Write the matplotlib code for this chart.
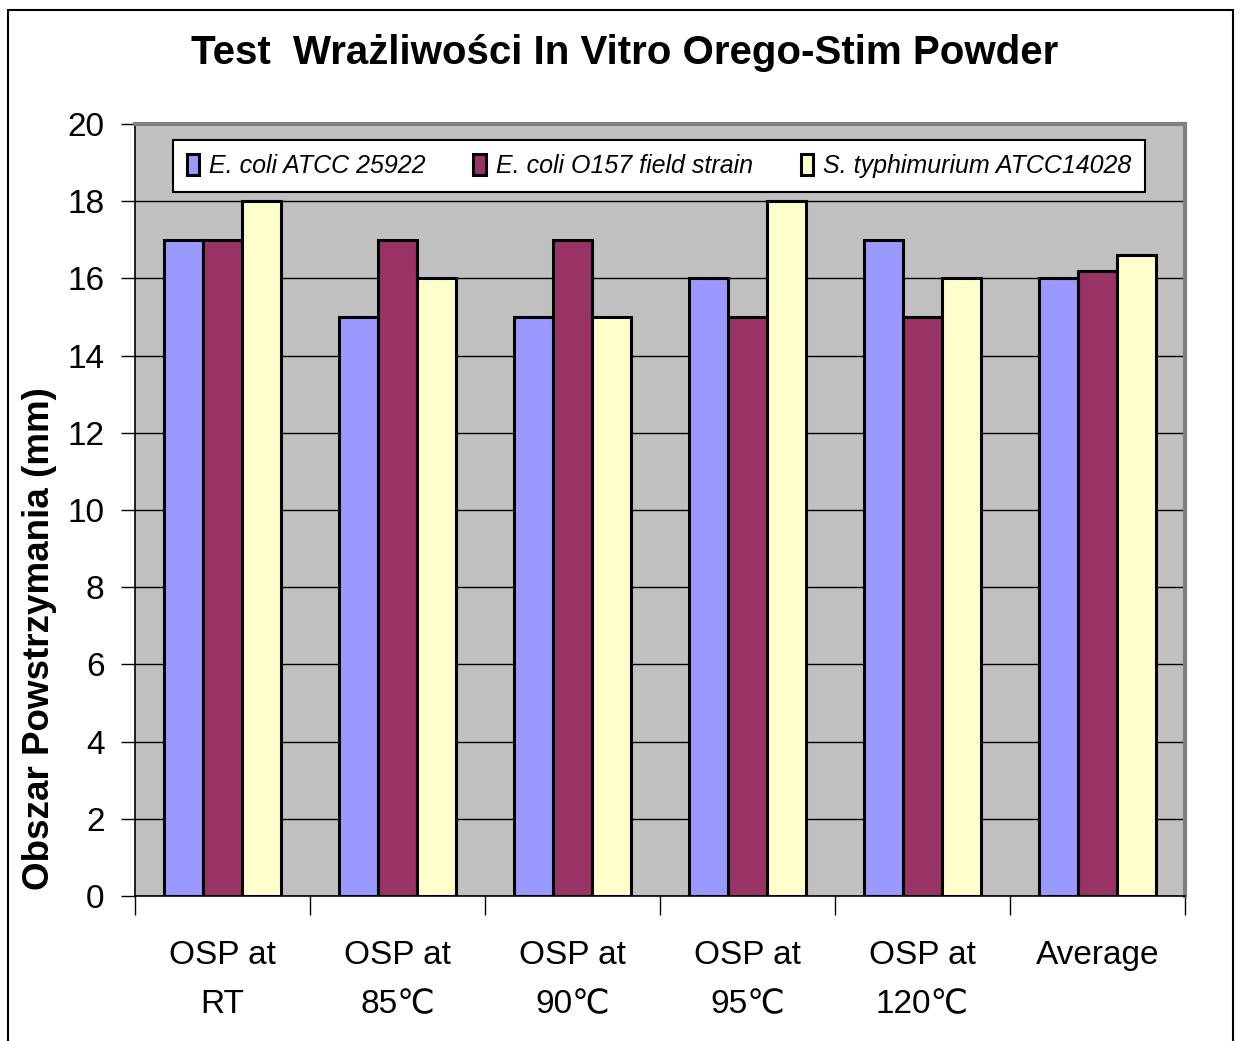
import matplotlib
matplotlib.use("Agg")
import matplotlib.pyplot as plt
import numpy as np
from matplotlib.patches import Rectangle

categories = ["OSP at\nRT", "OSP at\n85\u2103", "OSP at\n90\u2103", "OSP at\n95\u2103", "OSP at\n120\u2103", "Average"]
series_names = ["E. coli ATCC 25922", "E. coli O157 field strain", "S. typhimurium ATCC14028"]
ecoli_atcc = [17, 15, 15, 16, 17, 16.0]
ecoli_o157 = [17, 17, 17, 15, 15, 16.2]
s_typhi = [18, 16, 15, 18, 16, 16.6]
yticks = [0, 2, 4, 6, 8, 10, 12, 14, 16, 18, 20]
title = "Test  Wra\u017cliwo\u015bci In Vitro Orego-Stim Powder"
ylabel = "Obszar Powstrzymania (mm)"

colors = ["#9999FF", "#993366", "#FFFFCC"]

plt.rcParams['font.family'] = ['Liberation Sans', 'DejaVu Sans']

W, H = 1236, 1041
fig = plt.figure(figsize=(W / 100, H / 100), dpi=100)
fig.patch.set_facecolor("white")
fig.patches.append(Rectangle((8 / W, -0.05), (W - 11) / W, 1.05 - 10 / H, transform=fig.transFigure,
                             fill=False, edgecolor="black", linewidth=1.5))

ax = fig.add_axes([135 / W, 1 - 896 / H, 1050 / W, 772 / H])
ax.set_facecolor("#C0C0C0")

x = np.arange(len(categories))
bw = 0.223
for i, (vals, name) in enumerate(zip([ecoli_atcc, ecoli_o157, s_typhi], series_names)):
    ax.bar(x + (i - 1) * bw, vals, width=bw, color=colors[i], edgecolor="black",
           linewidth=2.2, label=name, zorder=3)

ax.set_xlim(-0.5, len(categories) - 0.5)
ax.set_ylim(0, 20)
ax.set_yticks(yticks)
ax.set_yticklabels([str(v) for v in yticks], fontsize=24)
ax.yaxis.grid(True, color="black", linewidth=1.0, zorder=1)
ax.set_axisbelow(True)
ax.tick_params(axis="y", length=10, width=1, pad=12, direction="out")

ax.set_xticks(np.arange(len(categories) + 1) - 0.5)
ax.set_xticklabels([])
ax.tick_params(axis="x", which="major", length=14, width=1, direction="out")
ax.set_xticks(x, minor=True)
ax.set_xticklabels(categories, minor=True, fontsize=24, linespacing=1.75)
ax.tick_params(axis="x", which="minor", length=0, pad=32)

for s in ["left", "bottom"]:
    ax.spines[s].set_color("black")
    ax.spines[s].set_linewidth(1.2)
for s in ["top", "right"]:
    ax.spines[s].set_color("#808080")
    ax.spines[s].set_linewidth(3)

leg = ax.legend(loc="lower left", bbox_to_anchor=(0.036, 0.912, 0.926, 0.067), mode="expand",
                ncol=3, prop={"style": "italic", "size": 18},
                frameon=True, fancybox=False, edgecolor="black", framealpha=1,
                handlelength=0.5, handleheight=0.9, handletextpad=0.4, borderaxespad=0,
                borderpad=0.55, columnspacing=1.5)
leg.get_frame().set_linewidth(1.5)
leg.set_zorder(5)

fig.text(625 / W, 1 - 53 / H, title, ha="center", va="center", fontsize=29, fontweight="bold")
fig.text(40 / W, 1 - 639 / H, ylabel, ha="center", va="center", rotation=90,
         fontsize=26.5, fontweight="bold")

fig.savefig("out.png", dpi=100)
